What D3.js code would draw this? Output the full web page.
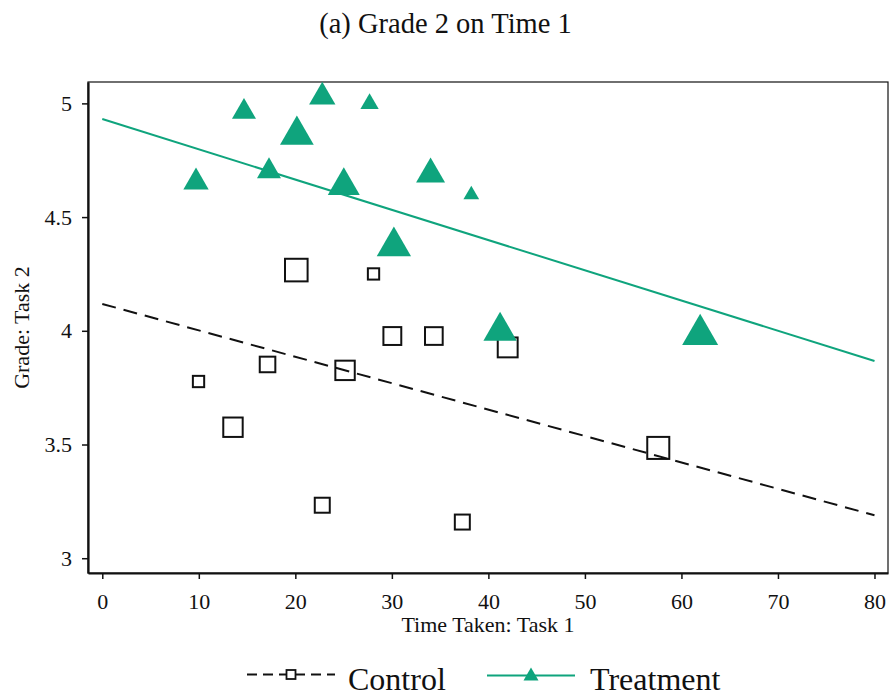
<!DOCTYPE html>
<html>
<head>
<meta charset="utf-8">
<script src="https://cdn.jsdelivr.net/npm/d3@7"></script>
<style>
  html, body { margin: 0; padding: 0; background: #fff; }
  svg { display: block; font-family: "Liberation Serif", "Times New Roman", serif; }
  svg text { font-family: "Liberation Serif", "Times New Roman", serif; }
</style>
</head>
<body>
<svg id="chart" width="891" height="698"></svg>
<script>
// Control group: time taken on task 1, grade on task 2, and analytic weight
const controlTime   = [20.1, 28.1, 30.05, 34.35, 42.0, 17.12, 25.15, 9.97, 13.54, 57.6, 22.79, 37.3];
const controlGrade  = [4.267, 4.25, 3.977, 3.977, 3.927, 3.852, 3.826, 3.777, 3.576, 3.485, 3.233, 3.159];
const controlWeight = [4.0, 1.0, 2.5, 2.45, 3.1, 1.9, 2.95, 1.0, 2.95, 3.8, 1.76, 1.76];

// Treatment group
const treatTime   = [14.68, 22.79, 27.69, 20.16, 9.71, 17.27, 25.02, 34.01, 38.23, 30.21, 41.21, 61.94];
const treatGrade  = [4.978, 5.045, 5.010, 4.882, 4.670, 4.717, 4.658, 4.707, 4.608, 4.393, 4.020, 4.006];
const treatWeight = [2.34, 2.81, 1.36, 4.61, 2.6, 2.34, 4.15, 3.41, 1.0, 4.77, 4.5, 5.26];

// Linear fits evaluated at the ends of the range
const fitTime       = [0, 80];
const controlFit    = [4.118, 3.189];
const treatmentFit  = [4.931, 3.867];

const xTicks = [0, 10, 20, 30, 40, 50, 60, 70, 80];
const yTicks = [3, 3.5, 4, 4.5, 5];

const titleText = "(a) Grade 2 on Time 1";
const xTitle = "Time Taken: Task 1";
const yTitle = "Grade: Task 2";
const seriesNames = ["Control", "Treatment"];

const GREEN = "#0fa47d";

const svg = d3.select("#chart");
const plotL = 88, plotR = 888, plotT = 82, plotB = 573;

const x = d3.scaleLinear().domain([-1.48, 81.4]).range([plotL, plotR]);
const y = d3.scaleLinear().domain([2.935, 5.094]).range([plotB, plotT]);
const sqSide = d3.scaleSqrt().domain([0, 1]).range([0, 11.3]);
const triWidth = d3.scaleSqrt().domain([0, 1]).range([0, 15.7]);

// Title
svg.append("text")
  .attr("x", 445.5).attr("y", 33)
  .attr("text-anchor", "middle")
  .attr("font-size", 28.5)
  .attr("fill", "#111")
  .text(titleText);

// Frame (thin top/right edges)
svg.append("rect")
  .attr("x", plotL).attr("y", plotT)
  .attr("width", plotR - plotL).attr("height", plotB - plotT)
  .attr("fill", "none").attr("stroke", "#111").attr("stroke-width", 1.2);

// Axes
const yAxis = svg.append("g")
  .attr("transform", `translate(${plotL},0)`)
  .call(d3.axisLeft(y).tickValues(yTicks).tickSize(6).tickSizeOuter(0).tickPadding(10).tickFormat(d3.format("")));
const xAxis = svg.append("g")
  .attr("transform", `translate(0,${plotB})`)
  .call(d3.axisBottom(x).tickValues(xTicks).tickSize(6).tickSizeOuter(0).tickPadding(14).tickFormat(d3.format("")));

[yAxis, xAxis].forEach(g => {
  g.attr("font-family", null).attr("font-size", 22);
  g.select(".domain").attr("stroke", "#111").attr("stroke-width", 2.2);
  g.selectAll(".tick line").attr("stroke", "#111").attr("stroke-width", 1.5);
  g.selectAll(".tick text").attr("fill", "#111");
});

// Axis titles
svg.append("text")
  .attr("x", (plotL + plotR) / 2).attr("y", 632)
  .attr("text-anchor", "middle")
  .attr("font-size", 22).attr("fill", "#111")
  .text(xTitle);
svg.append("text")
  .attr("transform", `translate(29,${(plotT + plotB) / 2}) rotate(-90)`)
  .attr("text-anchor", "middle")
  .attr("font-size", 22).attr("fill", "#111")
  .text(yTitle);

// Marker shapes
function trianglePath(cx, cy, w) {
  const h = w * Math.sqrt(3) / 2;
  return `M${cx},${cy - h / 2}L${cx + w / 2},${cy + h / 2}L${cx - w / 2},${cy + h / 2}Z`;
}

const controlData = controlTime.map((t, i) => ({ t, g: controlGrade[i], w: controlWeight[i] }));
const treatData = treatTime.map((t, i) => ({ t, g: treatGrade[i], w: treatWeight[i] }));

// Control: hollow squares
svg.append("g").selectAll("rect")
  .data(controlData).join("rect")
  .attr("x", d => x(d.t) - sqSide(d.w) / 2)
  .attr("y", d => y(d.g) - sqSide(d.w) / 2)
  .attr("width", d => sqSide(d.w))
  .attr("height", d => sqSide(d.w))
  .attr("fill", "none").attr("stroke", "#111").attr("stroke-width", 2);

// Treatment: solid triangles
svg.append("g").selectAll("path")
  .data(treatData).join("path")
  .attr("d", d => trianglePath(x(d.t), y(d.g), triWidth(d.w)))
  .attr("fill", GREEN);

// Fitted lines
const line = d3.line().x(d => x(d[0])).y(d => y(d[1]));
svg.append("path")
  .datum(fitTime.map((t, i) => [t, controlFit[i]]))
  .attr("d", line)
  .attr("fill", "none").attr("stroke", "#111").attr("stroke-width", 2)
  .attr("stroke-dasharray", "14,8");
svg.append("path")
  .datum(fitTime.map((t, i) => [t, treatmentFit[i]]))
  .attr("d", line)
  .attr("fill", "none").attr("stroke", GREEN).attr("stroke-width", 2);

// Legend
const legend = svg.append("g");
const ly = 674.5;
// Control key
legend.append("line")
  .attr("x1", 247).attr("x2", 335).attr("y1", ly).attr("y2", ly)
  .attr("stroke", "#111").attr("stroke-width", 2).attr("stroke-dasharray", "10,6");
legend.append("rect")
  .attr("x", 291 - 4.5).attr("y", ly - 4.5).attr("width", 9).attr("height", 9)
  .attr("fill", "#fff").attr("stroke", "#111").attr("stroke-width", 1.8);
legend.append("text")
  .attr("x", 348).attr("y", 690).attr("font-size", 32).attr("fill", "#111")
  .text(seriesNames[0]);
// Treatment key
legend.append("line")
  .attr("x1", 487).attr("x2", 575).attr("y1", ly + 1).attr("y2", ly + 1)
  .attr("stroke", GREEN).attr("stroke-width", 2);
legend.append("path")
  .attr("d", trianglePath(531, ly - 0.5, 15))
  .attr("fill", GREEN);
legend.append("text")
  .attr("x", 590).attr("y", 690).attr("font-size", 32).attr("fill", "#111")
  .text(seriesNames[1]);
</script>
</body>
</html>
